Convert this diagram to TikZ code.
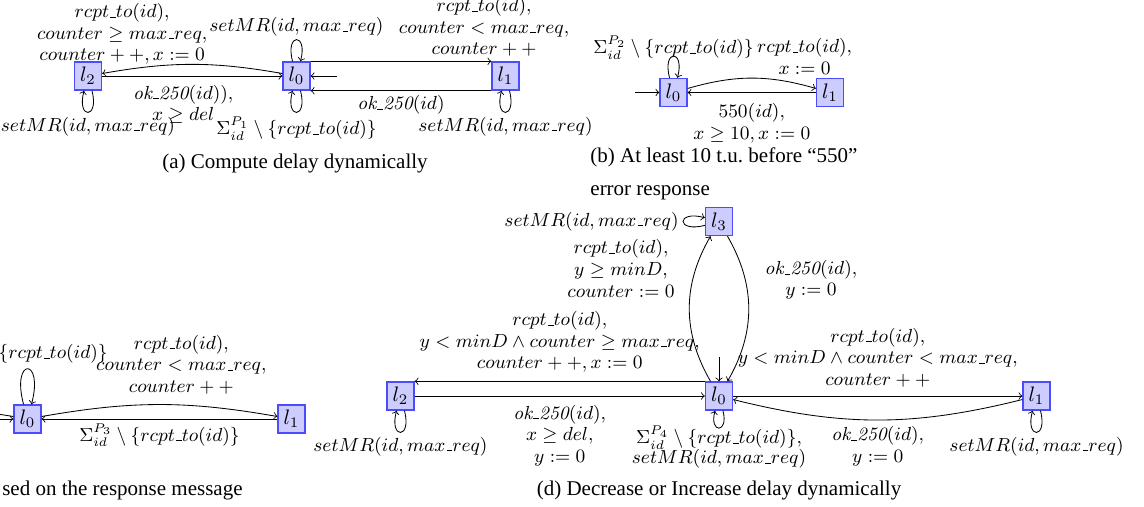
\documentclass[tikz,border=0pt]{standalone}
\usepackage{fontspec}
\newfontfamily\capfont{Liberation Serif}
\newcommand\us{\kern.06em\vbox{\hrule width.3em}}
\newcommand\rt{rcpt\us to(id)}
\newcommand\smr{setMR(id, max\us req)}
\newcommand\okk{\mathit{ok\us 250}(id)}
\tikzset{
  st/.style={draw=blue!70, fill=blue!20, line width=0.6pt, minimum width=12.9pt, minimum height=13.4pt, inner sep=1pt},
  lbl/.style={font=\fontsize{9}{10.3}\selectfont, align=center, inner sep=2pt},
  tr/.style={->, line width=0.4pt},
  captxt/.style={font=\capfont\fontsize{10}{12}\selectfont, inner sep=0pt}
}
\begin{document}
\begin{tikzpicture}[x=0.4762pt, y=-0.4762pt]
\useasboundingbox (0,0) rectangle (1144,506);
\clip (0,0) rectangle (1144,506);

% ---------- (a) ----------
\node[st] (al2) at (88,76) {$l_2$};
\node[st] (al0) at (296.5,76) {$l_0$};
\node[st] (al1) at (505.5,76) {$l_1$};
\coordinate (ai) at (337,76);
\draw[tr] (ai) -- (al0);
\draw[tr] (al0) to[bend right=10] node[lbl, above=0.5pt, pos=0.9] {$\rt,$\\$counter \geq max\us req,$\\$counter++, x := 0$} (al2);
\draw[tr] (al2) -- node[lbl, below=2pt, pos=0.45] {$\okk),$\\$x \geq del$} (al0);
\draw[tr] (al0) to[loop above] node[lbl, above=-0.5pt] {$\smr$} (al0);
\draw[tr] (al0) to[loop below] node[lbl, below] {$\Sigma_{id}^{P_1}\setminus\{\rt\}$} (al0);
\draw[tr] (al0.north east) -- node[lbl, above, pos=0.96] {$\rt,$\\$counter < max\us req,$\\$counter++$} (al1.north west);
\draw[tr] (al1.south west) -- node[lbl, below] {$\okk$} (al0.south east);
\draw[tr] (al1) to[loop below] node[lbl, below] {$\smr$} (al1);
\draw[tr] (al2) to[loop below] node[lbl, below] {$\smr$} (al2);
\node[captxt, anchor=base] (capa) at (295,168) {(a) Compute delay dynamically};

% ---------- (b) ----------
\node[st] (bl0) at (673.5,92.5) {$l_0$};
\node[st] (bl1) at (830,92.5) {$l_1$};
\coordinate (bi) at (635,92.5);
\draw[tr] (bi) -- (bl0);
\draw[tr] (bl0) to[loop above] node[lbl, above=-3.7pt] {$\Sigma_{id}^{P_2}\setminus\{\rt\}$} (bl0);
\draw[tr] (bl0) to[bend left=16] node[lbl, above=3pt, pos=0.92] {$\rt,$\\$x := 0$} (bl1);
\draw[tr] (bl1) -- node[lbl, below=3pt] {$550(id),$\\$x \geq 10, x := 0$} (bl0);
\node[captxt, anchor=north west, align=left] (capb) at (590,147) {(b) At least 10 t.u.\ before “550”\\[3.7pt]error response};

% ---------- (c) ----------
\node[st] (cl0) at (27.5,419) {$l_0$};
\node[st] (cl1) at (291.5,419) {$l_1$};
\coordinate (cx1) at (-200,419);
\coordinate (cx2) at (-200,419);
\draw[tr] (cx1) -- (cl0);
\draw[tr] (cl0) to[bend right=10] (cx2);
\draw[tr] (cl0) to[loop above, min distance=8.2mm] node[lbl, above] {$\Sigma_{id}^{P_3}\setminus\{\rt\}$} (cl0);
\draw[tr] (cl0) to[bend left=10] node[lbl, above=3pt, pos=0.6] {$\rt,$\\$counter < max\us req,$\\$counter++$} (cl1);
\draw[tr] (cl1) -- node[lbl, below] {$\Sigma_{id}^{P_3}\setminus\{\rt\}$} (cl0);
\node[captxt, anchor=base east] (capc) at (243,495) {sed on the response message};

% ---------- (d) ----------
\node[st] (dl3) at (719,221.5) {$l_3$};
\node[st] (dl0) at (719,396) {$l_0$};
\node[st] (dl2) at (400.5,396) {$l_2$};
\node[st] (dl1) at (1036.5,396) {$l_1$};
\coordinate (di) at (719,357);
\draw[tr] (di) -- (dl0);
\draw[tr] (dl3) to[loop left] node[lbl, left] {$\smr$} (dl3);
\draw[tr] (dl0) to[bend left=30] node[lbl, left=8pt, pos=0.78] {$\rt,$\\$y \geq minD,$\\$counter := 0$} (dl3);
\draw[tr] (dl3) to[bend left=30] node[lbl, right=7pt, pos=0.3] {$\okk,$\\$y := 0$} (dl0);
\draw[tr] (dl0.north west) -- node[lbl, above=2pt] {$\rt,$\\$y < minD \land counter \geq max\us req,$\\$counter++, x := 0$} (dl2.north east);
\draw[tr] (dl2) -- node[lbl, below=2pt] {$\okk,$\\$x \geq del,$\\$y := 0$} (dl0);
\draw[tr] (dl0) -- node[lbl, above=2pt] {$\rt,$\\$y < minD \land counter < max\us req,$\\$counter++$} (dl1);
\draw[tr] (dl1) to[bend left=14] node[lbl, below=1pt] {$\okk,$\\$y := 0$} (dl0);
\draw[tr] (dl0) to[loop below, min distance=4mm] node[lbl, below=-3pt] {$\Sigma_{id}^{P_4}\setminus\{\rt\},$\\[-1pt]$\smr$} (dl0);
\draw[tr] (dl2) to[loop below] node[lbl, below] {$\smr$} (dl2);
\draw[tr] (dl1) to[loop below] node[lbl, below] {$\smr$} (dl1);
\node[captxt, anchor=base] (capd) at (719,495) {(d) Decrease or Increase delay dynamically};
\end{tikzpicture}
\end{document}
